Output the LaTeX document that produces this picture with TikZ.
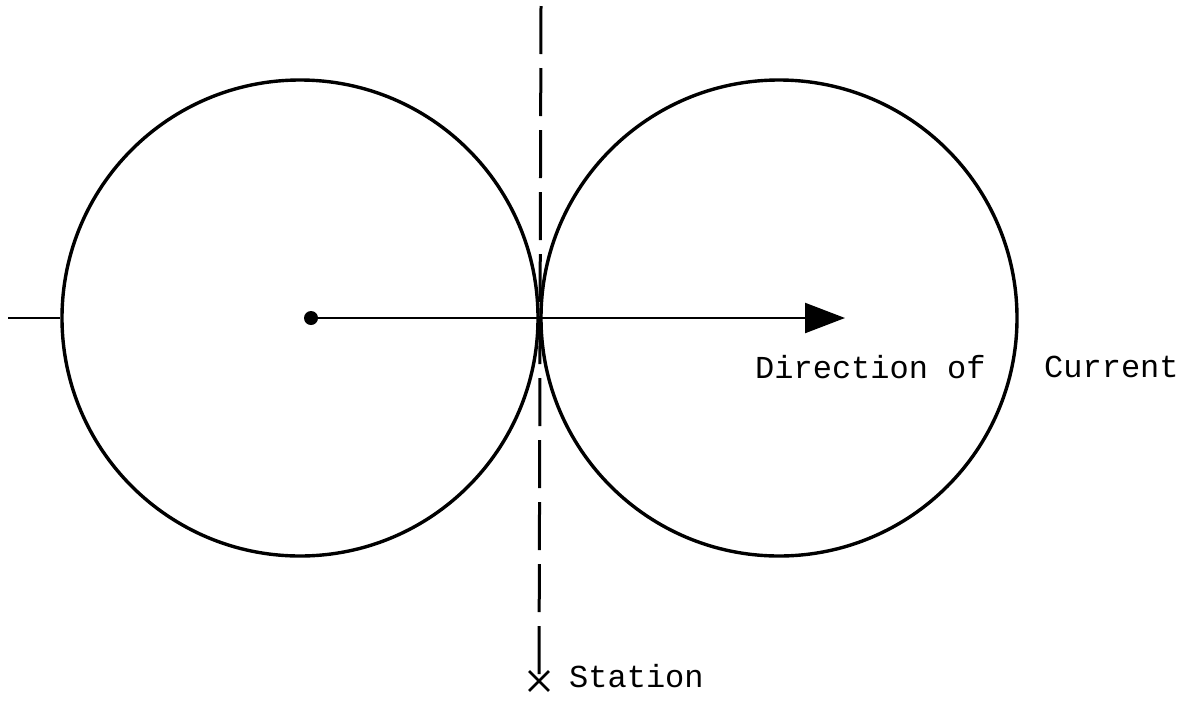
\documentclass[tikz,border=0pt]{standalone}
\usepackage{fontspec}
\setmonofont{Liberation Mono}
\usepackage{xcolor}
\usepackage{tikz}
\usetikzlibrary{positioning,arrows.meta,shapes.misc}
\definecolor{ink}{HTML}{000000}
\newcommand{\typed}[1]{{\ttfamily\fontsize{32}{36}\selectfont #1}}

\tikzset{
  ring/.style={draw=ink, line width=3.4pt, circle, minimum size=476pt, inner sep=0pt},
  flowline/.style={draw=ink, line width=2.4pt, -{Triangle[length=40pt,width=30pt]}},
  stationline/.style={draw=ink, line width=3pt, dash pattern=on 48pt off 14pt},
  caption/.style={anchor=west, inner sep=0pt, text=ink}
}

\begin{document}
\begin{tikzpicture}[x=1pt,y=-1pt]
  \useasboundingbox (0,0) rectangle (1191,702);

  % the two circles, touching at the station line
  \node[ring] (leftRing) at (300,318) {};
  \node[ring] (rightRing) at (779,318) {};

  % centre dot and current arrow
  \node[circle, fill=ink, minimum size=14pt, inner sep=0pt] (centreDot) at (311,318) {};
  \coordinate (arrowTip) at (845,318);
  \draw[flowline] (centreDot.center) -- (arrowTip);

  % stub on the left
  \coordinate (stubEnd) at (8,318);
  \draw[draw=ink, line width=2.4pt] (stubEnd) -- (leftRing.west);

  % station
  \coordinate (lineTop) at (541,6);
  \node[draw=ink, cross out, line width=2.8pt, minimum width=17pt, minimum height=17pt, inner sep=0pt] (stationMark) at (539,681) {};
  \draw[stationline] (lineTop) -- (stationMark.center);
  \node[caption] (stationText) at (569,676) {\typed{Station}};

  \node[caption] (dirText) at (755,367) {\typed{Direction of}};
  \node[caption] (curText) at (1044,367) {\typed{Current}};
\end{tikzpicture}
\end{document}
